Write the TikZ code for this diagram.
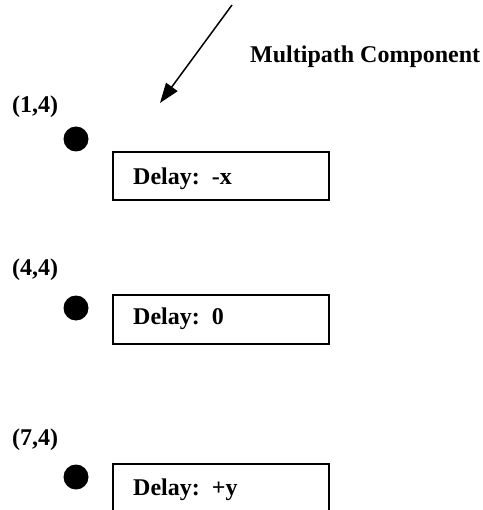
\documentclass[tikz,border=0pt]{standalone}
\usepackage{fontspec}
\setmainfont{Liberation Serif}
\usetikzlibrary{arrows.meta}
\begin{document}
\begin{tikzpicture}[x=1pt,y=-1pt,
  lbl/.style={font=\fontsize{24}{28}\selectfont\bfseries, inner sep=0pt, anchor=base west},
  dot/.style={circle, fill=black, draw=none, minimum size=25pt, inner sep=0pt},
  delaybox/.style={draw=black, line width=2pt, rectangle, inner sep=0pt, minimum width=216pt, anchor=north west}]
\useasboundingbox (0,0) rectangle (482,510);
% arrow
\coordinate (as) at (232,5);
\coordinate (ae) at (160,103);
\draw[line width=1.5pt, -{Triangle[length=20pt,width=14pt]}] (as) -- (ae);
\node[lbl] (mp) at (250,63) {Multipath Component};
% labels
\node[lbl] (l1) at (12,113) {(1,4)};
\node[lbl] (l2) at (12,275) {(4,4)};
\node[lbl] (l3) at (12,445) {(7,4)};
% dots
\node[dot] (d1) at (76,139) {};
\node[dot] (d2) at (76,308) {};
\node[dot] (d3) at (76,477) {};
% boxes
\node[delaybox, minimum height=48pt] (b1) at (112,151) {};
\node[delaybox, minimum height=49pt] (b2) at (112,294) {};
\node[delaybox, minimum height=48pt] (b3) at (112,463) {};
\node[lbl] (t1) at (133,185) {Delay:\ \ -x};
\node[lbl] (t2) at (133,324) {Delay:\ \ 0};
\node[lbl] (t3) at (133,495) {Delay:\ \ +y};
\end{tikzpicture}
\end{document}
